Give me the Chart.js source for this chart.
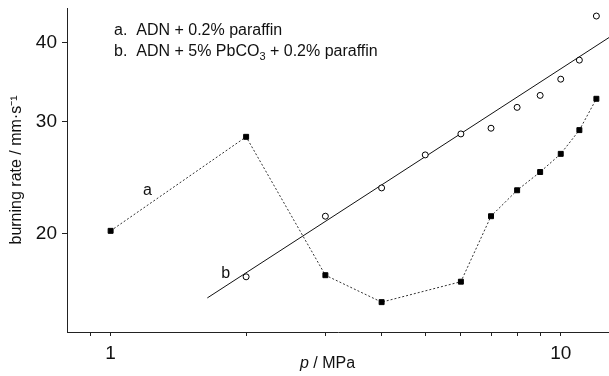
<!DOCTYPE html>
<html>
<head>
<meta charset="utf-8">
<script src="https://cdn.jsdelivr.net/npm/chart.js@4"></script>
<style>
  body { margin: 0; background: #fff; }
  canvas { display: block; }
</style>
</head>
<body>
<canvas id="rateChart" width="609" height="376"></canvas>
<script>

// pressure (MPa) and burning rate (mm/s)
const pressureA = [1, 2, 3, 4, 6, 7, 8, 9, 10, 11, 12];
const rateA = [20.2, 28.4, 17.2, 15.6, 16.8, 21.3, 23.4, 25.0, 26.7, 29.1, 32.6];

const pressureB = [2, 3, 4, 5, 6, 7, 8, 9, 10, 11, 12];
const rateB = [17.1, 21.3, 23.6, 26.6, 28.7, 29.3, 31.6, 33.0, 35.0, 37.5, 44.0];

// straight fit line through series b (two ends)
const fitPressure = [1.64, 12.8];
const fitRate = [15.84, 40.7];

const xTicks = [0.9, 1, 2, 3, 4, 5, 6, 7, 8, 9, 10];
const xTickLabels = ['', '1', '', '', '', '', '', '', '', '', '10'];
const yTicks = [20, 30, 40];

const legendLines = ['a.  ADN + 0.2% paraffin', 'b.  ADN + 5% PbCO', '3', ' + 0.2% paraffin'];

const FONT = "'Liberation Sans', Arial, sans-serif";

function toPoints(xs, ys) {
  return xs.map((x, i) => ({x: x, y: ys[i]}));
}

// texts inside the plot: legend, curve labels, x title
const textPlugin = {
  id: 'texts',
  afterDraw(chart) {
    const ctx = chart.ctx;
    const xs = chart.scales.x;
    const ys = chart.scales.y;
    const left = chart.chartArea.left;
    ctx.save();
    ctx.fillStyle = '#111';
    ctx.textBaseline = 'alphabetic';
    ctx.font = '16px ' + FONT;

    // legend
    let lx = left + 47;
    ctx.fillText(legendLines[0], lx, 35);
    ctx.fillText(legendLines[1], lx, 56);
    let w = ctx.measureText(legendLines[1]).width;
    ctx.font = '11px ' + FONT;
    ctx.fillText(legendLines[2], lx + w, 60);
    let w2 = ctx.measureText(legendLines[2]).width;
    ctx.font = '16px ' + FONT;
    ctx.fillText(legendLines[3], lx + w + w2, 56);

    // curve labels
    ctx.fillText('a', xs.getPixelForValue(1.18), ys.getPixelForValue(23.0));
    ctx.fillText('b', xs.getPixelForValue(1.76), ys.getPixelForValue(17.0));

    // x title with italic p
    ctx.font = 'italic 16px ' + FONT;
    let px = 300;
    ctx.fillText('p', px, 368);
    let pw = ctx.measureText('p').width;
    ctx.font = '16px ' + FONT;
    ctx.fillText(' / MPa', px + pw, 368);
    ctx.restore();
  }
};

new Chart(document.getElementById('rateChart'), {
  type: 'scatter',
  data: {
    datasets: [
      {
        label: 'a',
        data: toPoints(pressureA, rateA),
        showLine: true,
        borderColor: '#333',
        borderWidth: 1,
        borderDash: [2, 2],
        pointStyle: 'rect',
        pointRadius: 3.5,
        pointBackgroundColor: '#000',
        pointBorderColor: '#000',
        pointBorderWidth: 1
      },
      {
        label: 'b',
        data: toPoints(pressureB, rateB),
        showLine: false,
        pointStyle: 'circle',
        pointRadius: 3,
        pointBackgroundColor: '#fff',
        pointBorderColor: '#000',
        pointBorderWidth: 1
      },
      {
        label: 'fit b',
        data: toPoints(fitPressure, fitRate),
        showLine: true,
        borderColor: '#111',
        borderWidth: 1,
        pointRadius: 0
      }
    ]
  },
  options: {
    responsive: false,
    animation: false,
    layout: { autoPadding: false, padding: { top: 8, right: 0, left: 0, bottom: 0 } },
    plugins: {
      legend: { display: false },
      tooltip: { enabled: false }
    },
    scales: {
      x: {
        type: 'logarithmic',
        min: 0.8,
        max: 12.8,
        afterBuildTicks: (scale) => { scale.ticks = xTicks.map(v => ({value: v})); },
        afterFit: (scale) => {
          scale.height = 44;
          scale.paddingLeft = 0;
          scale.paddingRight = 0;
        },
        ticks: {
          autoSkip: false,
          maxRotation: 0,
          padding: 0,
          color: '#111',
          font: { family: FONT, size: 19, lineHeight: 1.83 },
          callback: (v, i) => xTickLabels[i]
        },
        grid: { drawOnChartArea: false, drawTicks: true, tickLength: 4, color: '#222' },
        border: { display: true, color: '#222', width: 1 }
      },
      y: {
        type: 'logarithmic',
        min: 14,
        max: 45.3,
        afterBuildTicks: (scale) => { scale.ticks = yTicks.map(v => ({value: v})); },
        afterFit: (scale) => {
          scale.width = 67;
          scale.paddingTop = 0;
          scale.paddingBottom = 0;
        },
        ticks: {
          autoSkip: false,
          padding: 5,
          color: '#111',
          font: { family: FONT, size: 19 },
          callback: (v) => String(v)
        },
        title: {
          display: true,
          text: 'burning rate / mm·s⁻¹',
          color: '#111',
          font: { family: FONT, size: 16 },
          padding: { top: 7, bottom: 0 }
        },
        grid: { drawOnChartArea: false, drawTicks: true, tickLength: 5, color: '#222' },
        border: { display: true, color: '#222', width: 1 }
      }
    }
  },
  plugins: [textPlugin]
});
</script>
</body>
</html>
